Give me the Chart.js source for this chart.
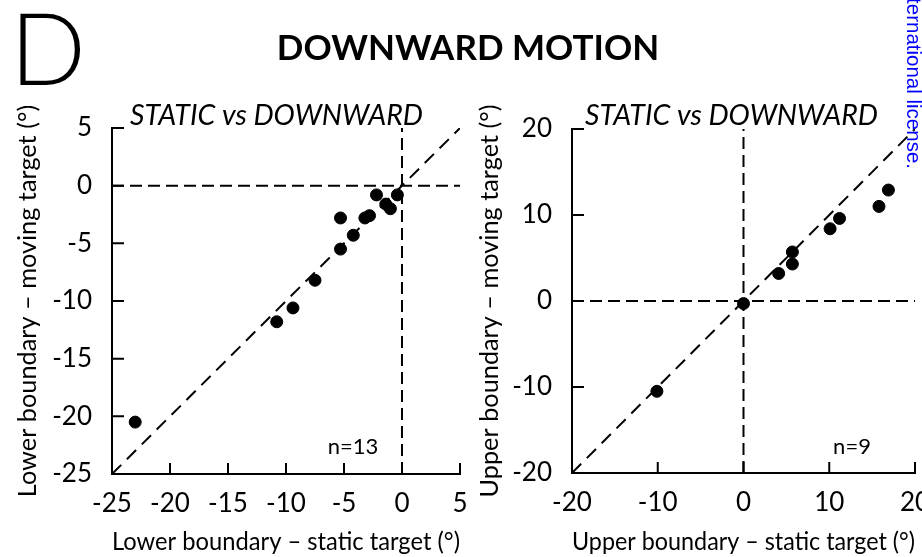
<!DOCTYPE html>
<html>
<head>
<meta charset="utf-8">
<script src="https://cdn.jsdelivr.net/npm/chart.js@4"></script>
<style>
body { margin:0; background:#fff; }
#page { position:relative; width:922px; height:557px; overflow:hidden; font-family:Lato, sans-serif; color:#000; }
#panel { position:absolute; left:10px; top:-4px; font-size:100px; line-height:1; font-weight:300; }
#title { position:absolute; left:0; width:936px; top:29px; font-size:35px; line-height:1; font-weight:bold; text-align:center; }
#c1 { position:absolute; left:0; top:0; }
#c2 { position:absolute; left:470px; top:0; }
</style>
</head>
<body>
<div id="page">
  <canvas id="c1" width="470" height="557"></canvas>
  <canvas id="c2" width="452" height="557"></canvas>
  <div id="panel">D</div>
  <div id="title">DOWNWARD MOTION</div>
</div>
<script>
// LOWER BOUNDARY: static target (x) vs downward moving target (y)
const lowerStatic = [-2.2, -0.4, -1.4, -1.0, -5.3, -3.2, -2.8, -4.2, -5.3, -7.5, -9.4, -10.8, -23.0];
const lowerMoving = [-0.8, -0.8, -1.6, -2.0, -2.8, -2.8, -2.6, -4.3, -5.5, -8.2, -10.6, -11.8, -20.5];
const lowerTicks = [-25, -20, -15, -10, -5, 0, 5];

// UPPER BOUNDARY
const upperStatic = [16.9, 15.8, 11.2, 10.1, 5.7, 5.7, 4.1, 0.0, -10.1];
const upperMoving = [12.9, 11.0, 9.6, 8.4, 5.7, 4.3, 3.2, -0.3, -10.5];
const upperTicks = [-20, -10, 0, 10, 20];

Chart.defaults.font.family = "Lato";
Chart.defaults.color = "#000";

// inward tick marks + text inside the plot
const decor = {
  id: "decor",
  afterDraw(chart, args, o) {
    const ctx = chart.ctx, a = chart.chartArea;
    const sx = chart.scales.x, sy = chart.scales.y;
    ctx.save();
    ctx.strokeStyle = "#000";
    ctx.lineWidth = 2;
    ctx.beginPath();
    sx.ticks.forEach(t => {
      const px = sx.getPixelForValue(t.value);
      ctx.moveTo(px, a.bottom);
      ctx.lineTo(px, a.bottom - 11);
    });
    sy.ticks.forEach(t => {
      const py = sy.getPixelForValue(t.value);
      ctx.moveTo(a.left, py);
      ctx.lineTo(a.left + 12, py);
    });
    ctx.stroke();

    ctx.fillStyle = "#000";
    ctx.textAlign = "left";
    ctx.textBaseline = "alphabetic";
    ctx.font = "italic 29px Lato";
    ctx.fillText(o.sub, a.left + o.subDx, o.subY, 293);
    ctx.textAlign = "center";
    ctx.font = "22px Lato";
    ctx.fillText(o.n, a.left + o.nDx, o.nY);

    if (o.note) {
      ctx.translate(o.note.x, o.note.y);
      ctx.rotate(Math.PI / 2);
      ctx.textAlign = "right";
      ctx.fillStyle = "#0000ff";
      ctx.font = "20.5px 'Liberation Sans'";
      ctx.fillText(o.note.text, 0, 0);
    }
    ctx.restore();
  }
};

function makeChart(id, xs, ys, ticks, o) {
  const min = ticks[0], max = ticks[ticks.length - 1];
  const pts = xs.map((x, i) => ({x: x, y: ys[i]}));
  const dashed = (data, dash) => ({
    type: "line", data: data, showLine: true, pointRadius: 0,
    borderColor: "#000", borderWidth: 2, borderDash: dash, fill: false, order: 1
  });
  const axis = (title, extra) => Object.assign({
    type: "linear", min: min, max: max,
    ticks: {stepSize: ticks[1] - ticks[0], color: "#000", font: {size: 26}, autoSkip: false, maxRotation: 0},
    grid: {display: false, drawTicks: false},
    border: {display: true, color: "#000", width: 2},
    title: {display: true, text: title, color: "#000", font: {size: 25.3}}
  }, extra);

  return new Chart(id, {
    type: "scatter",
    data: {
      datasets: [
        {data: pts, backgroundColor: "#000", borderColor: "#000", pointRadius: 6, borderWidth: 1, pointHoverRadius: 6, order: 0},
        dashed([{x: min, y: 0}, {x: max, y: 0}], [12, 6]),
        dashed([{x: 0, y: min}, {x: 0, y: max}], [12, 6]),
        dashed([{x: min, y: min}, {x: max, y: max}], [13, 8])
      ]
    },
    options: {
      responsive: false,
      animation: false,
      layout: {padding: {top: o.top, right: o.right, left: 0, bottom: 0}},
      plugins: {
        legend: {display: false},
        tooltip: {enabled: false},
        decor: o.decor
      },
      scales: {
        x: axis(o.xTitle, {
          position: "bottom",
          afterFit: s => { s.height = o.xH; s.paddingLeft = 0; s.paddingRight = 0; }
        }),
        y: axis(o.yTitle, {
          position: "left",
          afterFit: s => { s.width = o.yW; s.paddingTop = 0; s.paddingBottom = 0; }
        })
      }
    },
    plugins: [decor]
  });
}

const c1 = makeChart("c1", lowerStatic, lowerMoving, lowerTicks, {
  top: 128, right: 10, xH: 83, yW: 112,
  xTitle: "Lower boundary \u2013 static target (\u00b0)",
  yTitle: "Lower boundary \u2013 moving target (\u00b0)",
  decor: {sub: "STATIC vs DOWNWARD", subDx: 18, subY: 125, n: "n=13", nDx: 241, nY: 454}
});
c1.options.scales.x.ticks.padding = 14;
c1.options.scales.y.ticks.padding = 20;
c1.options.scales.x.title.padding = {top: 0, bottom: 0};
c1.options.scales.y.title.padding = {top: 13, bottom: 0};
c1.update();

const c2 = makeChart("c2", upperStatic, upperMoving, upperTicks, {
  top: 129, right: 4, xH: 84, yW: 102,
  xTitle: "Upper boundary \u2013 static target (\u00b0)",
  yTitle: "Upper boundary \u2013 moving target (\u00b0)",
  decor: {sub: "STATIC vs DOWNWARD", subDx: 13, subY: 125, n: "n=9", nDx: 280, nY: 454,
          note: {x: 437, y: 169, text: "International license."}}
});
c2.options.scales.x.ticks.padding = 14;
c2.options.scales.y.ticks.padding = 20;
c2.options.scales.x.title.padding = {top: 0, bottom: 0};
c2.options.scales.y.title.padding = {top: 5, bottom: 0};
c2.update();
</script>
</body>
</html>
